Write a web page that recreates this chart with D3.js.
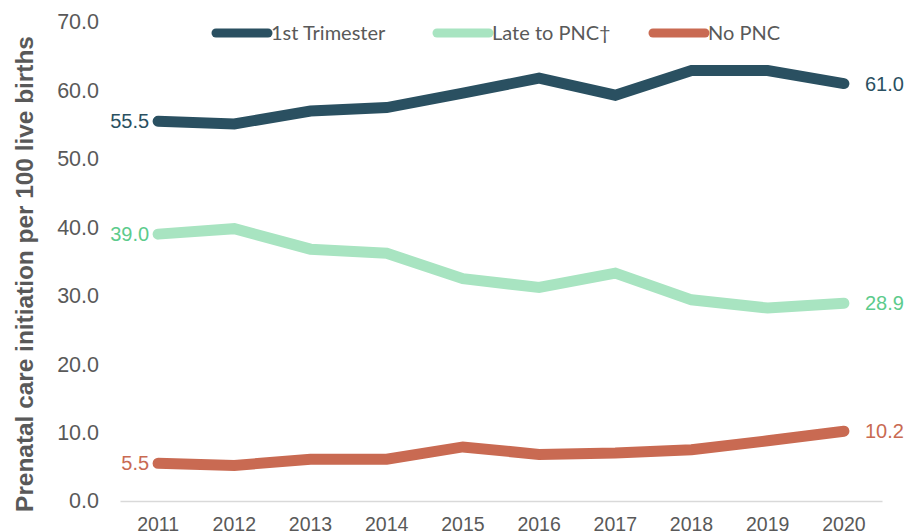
<!DOCTYPE html>
<html>
<head>
<meta charset="utf-8">
<script src="https://cdn.jsdelivr.net/npm/d3@7"></script>
<style>
  body { margin: 0; background: #fff; }
  svg text { font-family: "Liberation Sans", Arial, sans-serif; }
</style>
</head>
<body>
<svg id="chart" width="904" height="531"></svg>
<script>
const years = ["2011", "2012", "2013", "2014", "2015", "2016", "2017", "2018", "2019", "2020"];
const firstTrimester = [55.5, 55.1, 57.0, 57.5, 59.6, 61.8, 59.3, 62.9, 62.9, 61.0];
const lateToPnc = [39.0, 39.8, 36.8, 36.2, 32.5, 31.2, 33.3, 29.4, 28.2, 28.9];
const noPnc = [5.5, 5.2, 6.1, 6.1, 7.9, 6.8, 7.0, 7.5, 8.8, 10.2];
const seriesNames = ["1st Trimester", "Late to PNC\u2020", "No PNC"];
const yTicks = [0, 10, 20, 30, 40, 50, 60, 70];

const series = [
  { name: seriesNames[0], values: firstTrimester, color: "#2a5061", label: "#2a5061" },
  { name: seriesNames[1], values: lateToPnc, color: "#a8e4c1", label: "#5ccb8c" },
  { name: seriesNames[2], values: noPnc, color: "#c96a52", label: "#c96a52" }
];

const svg = d3.select("#chart");
const plotLeft = 120, plotRight = 882, plotTop = 22, plotBottom = 501;

const x = d3.scaleBand().domain(years).range([plotLeft, plotRight]);
const y = d3.scaleLinear().domain([0, 70]).range([plotBottom, plotTop]);
const cx = (d) => x(d) + x.bandwidth() / 2;

// y axis labels (no line)
const yAxis = svg.append("g")
  .attr("transform", `translate(${plotLeft},0)`)
  .call(d3.axisLeft(y).tickValues(yTicks).tickFormat(d3.format(".1f")).tickSize(0).tickPadding(21));
yAxis.select(".domain").remove();
yAxis.selectAll("text")
  .style("font-size", "21.5px")
  .attr("fill", "#595959")
  .style("font-family", "Liberation Sans, Arial, sans-serif");

// x axis
const xAxis = svg.append("g")
  .attr("transform", `translate(0,${plotBottom})`)
  .call(d3.axisBottom(x).tickSize(0).tickPadding(16));
xAxis.select(".domain").attr("stroke", "#d9d9d9").attr("stroke-width", 1.5);
xAxis.selectAll("text")
  .style("font-size", "19.5px")
  .attr("fill", "#595959")
  .style("font-family", "Liberation Sans, Arial, sans-serif");

// y title
svg.append("text")
  .attr("transform", `translate(33,274) rotate(-90)`)
  .attr("text-anchor", "middle")
  .style("font-size", "24.4px")
  .style("font-weight", "bold")
  .attr("fill", "#595959")
  .text("Prenatal care initiation per 100 live births");

const line = d3.line()
  .x((d, i) => cx(years[i]))
  .y((d) => y(d));

series.forEach((s) => {
  svg.append("path")
    .datum(s.values)
    .attr("d", line)
    .attr("fill", "none")
    .attr("stroke", s.color)
    .attr("stroke-width", 11)
    .attr("stroke-linecap", "round")
    .attr("stroke-linejoin", "miter");

  // start and end labels
  svg.append("text")
    .attr("x", cx(years[0]) - 9)
    .attr("y", y(s.values[0]))
    .attr("dy", "0.35em")
    .attr("text-anchor", "end")
    .style("font-size", "20px")
    .attr("fill", s.label)
    .text(d3.format(".1f")(s.values[0]));

  const last = s.values.length - 1;
  svg.append("text")
    .attr("x", cx(years[last]) + 21)
    .attr("y", y(s.values[last]))
    .attr("dy", "0.35em")
    .attr("text-anchor", "start")
    .style("font-size", "20px")
    .attr("fill", s.label)
    .text(d3.format(".1f")(s.values[last]));
});

// legend
const legendX = [216, 437, 653];
const legend = svg.append("g");
series.forEach((s, i) => {
  const g = legend.append("g").attr("transform", `translate(${legendX[i]},33)`);
  g.append("line")
    .attr("x1", 0).attr("x2", 52)
    .attr("y1", 0).attr("y2", 0)
    .attr("stroke", s.color)
    .attr("stroke-width", 9)
    .attr("stroke-linecap", "round");
  g.append("text")
    .attr("x", 55)
    .attr("dy", "0.35em")
    .style("font-family", "Lato, 'Open Sans', sans-serif")
    .style("font-size", "20px")
    .attr("fill", "#595959")
    .text(s.name);
});
</script>
</body>
</html>
